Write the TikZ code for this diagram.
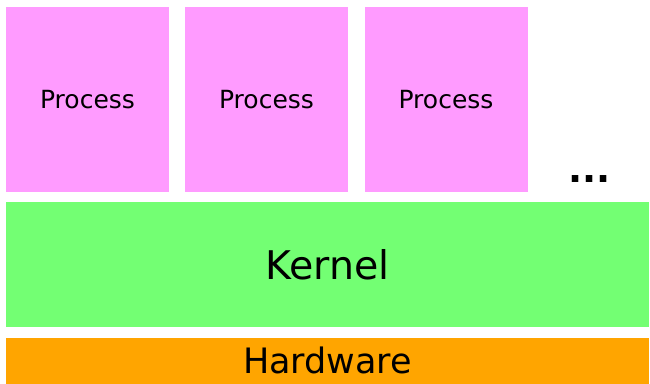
\documentclass[tikz,border=0pt]{standalone}
\usepackage{fontspec}
\setmainfont{DejaVu Sans}
\definecolor{procpink}{RGB}{255,155,255}
\definecolor{kerngreen}{RGB}{115,255,115}
\definecolor{hworange}{RGB}{255,165,0}
\tikzset{
  layer/.style={inner sep=0pt, outer sep=0pt, draw=none},
  procbox/.style={layer, fill=procpink, minimum width=163pt, minimum height=185pt, font=\fontsize{25}{29}\selectfont},
  kernbox/.style={layer, fill=kerngreen, minimum width=643pt, minimum height=125pt, font=\fontsize{39.5}{45}\selectfont},
  hwbox/.style={layer, fill=hworange, minimum width=643pt, minimum height=46pt, font=\fontsize{35}{40}\selectfont},
}
\begin{document}
\begin{tikzpicture}[x=1pt,y=-1pt]
  \useasboundingbox (0,0) rectangle (650,383);
  % user-space processes
  \node[procbox] (p1) at (87.5,99.5) {Process};
  \node[procbox] (p2) at (266.5,99.5) {Process};
  \node[procbox] (p3) at (446,99.5) {Process};
  \node[inner sep=0pt, anchor=base, font=\bfseries\fontsize{37}{44}\selectfont] (more) at (589.5,182) {...};
  % kernel and hardware layers
  \node[kernbox] (kernel) at (327.5,264.5) {Kernel};
  \node[hwbox] (hw) at (327.5,360.5) {Hardware};
\end{tikzpicture}
\end{document}
